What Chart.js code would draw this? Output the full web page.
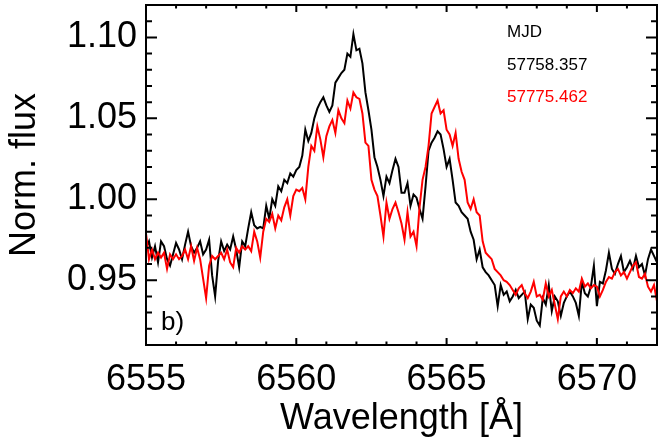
<!DOCTYPE html>
<html>
<head>
<meta charset="utf-8">
<script src="https://cdn.jsdelivr.net/npm/chart.js@4.4.1/dist/chart.umd.min.js"></script>
<style>
  html, body { margin: 0; padding: 0; background: #fff; }
  canvas { display: block; }
</style>
</head>
<body>
<canvas id="chartSpectrum" width="664" height="443"></canvas>
<script>
// Wavelength sampling of both spectra (Angstrom)
const wavelengthStart = 6555.0;
const wavelengthStep = 0.1;

// MJD 57758.357 (black), one row per Angstrom
const flux57758 = [
    0.970, 0.974, 0.964, 0.971, 0.961, 0.974, 0.971, 0.963, 0.959, 0.966,
    0.973, 0.969, 0.963, 0.972, 0.980, 0.971, 0.967, 0.970, 0.974, 0.966,
    0.969, 0.975, 0.953, 0.940, 0.962, 0.974, 0.968, 0.972, 0.969, 0.977,
    0.969, 0.958, 0.974, 0.971, 0.982, 0.992, 0.984, 0.982, 0.983, 0.982,
    0.996, 0.988, 1.000, 0.996, 1.008, 1.005, 1.012, 1.010, 1.016, 1.014,
    1.018, 1.020, 1.027, 1.043, 1.036, 1.041, 1.050, 1.056, 1.060, 1.063,
    1.058, 1.054, 1.058, 1.072, 1.075, 1.078, 1.080, 1.090, 1.088, 1.102,
    1.092, 1.093, 1.084, 1.066, 1.055, 1.043, 1.026, 1.020, 1.012, 1.002,
    1.014, 1.010, 1.018, 1.025, 1.020, 1.004, 1.004, 1.010, 0.996, 1.003,
    1.001, 0.994, 0.988, 1.008, 1.030, 1.035, 1.038, 1.042, 1.040, 1.031,
    1.020, 1.025, 1.012, 0.998, 0.996, 0.992, 0.990, 0.988, 0.980, 0.975,
    0.963, 0.969, 0.958, 0.955, 0.953, 0.950, 0.947, 0.934, 0.947, 0.941,
    0.943, 0.937, 0.940, 0.944, 0.939, 0.941, 0.943, 0.926, 0.935, 0.933,
    0.925, 0.922, 0.939, 0.935, 0.947, 0.931, 0.940, 0.937, 0.928, 0.936,
    0.940, 0.943, 0.940, 0.936, 0.928, 0.949, 0.942, 0.940, 0.946, 0.959,
    0.934, 0.949, 0.948, 0.956, 0.967, 0.957, 0.954, 0.960, 0.965, 0.955,
    0.958, 0.962, 0.957, 0.965, 0.958, 0.960, 0.953, 0.963, 0.969, 0.965,
    0.961
];

// MJD 57775.462 (red)
const flux57775 = [
    0.979, 0.963, 0.969, 0.963, 0.967, 0.964, 0.967, 0.957, 0.966, 0.963,
    0.966, 0.963, 0.965, 0.969, 0.963, 0.971, 0.962, 0.970, 0.963, 0.951,
    0.939, 0.959, 0.965, 0.963, 0.965, 0.967, 0.963, 0.969, 0.961, 0.958,
    0.970, 0.967, 0.971, 0.969, 0.971, 0.968, 0.980, 0.974, 0.964, 0.980,
    0.988, 0.986, 0.991, 0.982, 0.990, 0.987, 0.995, 1.000, 0.990, 1.002,
    1.006, 1.005, 1.007, 1.000, 1.020, 1.033, 1.030, 1.045, 1.037, 1.026,
    1.039, 1.045, 1.049, 1.041, 1.055, 1.050, 1.047, 1.061, 1.056, 1.066,
    1.063, 1.062, 1.053, 1.035, 1.033, 1.012, 1.006, 1.002, 0.990, 0.977,
    0.998, 0.988, 0.994, 0.998, 0.992, 0.985, 0.975, 0.992, 0.977, 0.980,
    0.971, 0.995, 1.012, 1.020, 1.033, 1.053, 1.057, 1.061, 1.053, 1.055,
    1.043, 1.040, 1.033, 1.041, 1.025, 1.017, 1.012, 0.998, 0.994, 1.000,
    0.992, 0.990, 0.974, 0.967, 0.965, 0.963, 0.957, 0.955, 0.953, 0.950,
    0.949, 0.947, 0.944, 0.941, 0.945, 0.947, 0.942, 0.939, 0.943, 0.949,
    0.940, 0.941, 0.938, 0.948, 0.940, 0.944, 0.935, 0.926, 0.940, 0.943,
    0.940, 0.944, 0.942, 0.945, 0.943, 0.951, 0.946, 0.948, 0.945, 0.947,
    0.946, 0.940, 0.944, 0.949, 0.952, 0.951, 0.955, 0.957, 0.953, 0.955,
    0.951, 0.955, 0.959, 0.961, 0.952, 0.951, 0.954, 0.946, 0.943, 0.947,
    0.937
];

const xTickLabels = [6555, 6560, 6565, 6570];
const yTickLabels = [0.95, 1.00, 1.05, 1.10];
const legendTitle = 'MJD';
const panelLabel = 'b)';

const FONT = '"Liberation Sans", Arial, Helvetica, sans-serif';

function toPoints(flux) {
    return flux.map((f, i) => ({ x: +(wavelengthStart + i * wavelengthStep).toFixed(2), y: f }));
}

// box + inward ticks on all four sides (IDL style)
const frameTicks = {
    id: 'frameTicks',
    afterDraw(chart) {
        const { ctx, chartArea: a, scales: { x, y } } = chart;
        ctx.save();
        ctx.strokeStyle = '#000';
        ctx.lineWidth = 2;
        ctx.beginPath();
        for (let k = Math.ceil(x.min) + 1; k < x.max; k++) {
            const px = x.getPixelForValue(k);
            const len = k % 5 === 0 ? 7 : 3.5;
            ctx.moveTo(px, a.bottom); ctx.lineTo(px, a.bottom - len);
            ctx.moveTo(px, a.top); ctx.lineTo(px, a.top + len);
        }
        for (let k = Math.round(y.min * 100) + 1; k < Math.round(y.max * 100); k++) {
            const py = y.getPixelForValue(k / 100);
            const len = k % 5 === 0 ? 11 : 6;
            ctx.moveTo(a.left, py); ctx.lineTo(a.left + len, py);
            ctx.moveTo(a.right, py); ctx.lineTo(a.right - len, py);
        }
        ctx.stroke();
        ctx.strokeRect(a.left, a.top, a.right - a.left, a.bottom - a.top);

        // legend in the upper right
        ctx.font = '17px ' + FONT;
        ctx.textBaseline = 'alphabetic';
        ctx.textAlign = 'left';
        ctx.fillStyle = '#000';
        ctx.fillText(legendTitle, 507, 37);
        chart.data.datasets.forEach((ds, i) => {
            ctx.fillStyle = ds.borderColor;
            ctx.fillText(ds.label, 507, 70 + i * 32);
        });

        // panel letter
        ctx.fillStyle = '#000';
        ctx.font = '26px ' + FONT;
        ctx.fillText(panelLabel, 161, 330);
        ctx.restore();
    }
};

new Chart(document.getElementById('chartSpectrum'), {
    type: 'line',
    data: {
        datasets: [{
            label: '57758.357',
            data: toPoints(flux57758),
            borderColor: '#000000',
            borderWidth: 2,
            pointRadius: 0,
            order: 2
        }, {
            label: '57775.462',
            data: toPoints(flux57775),
            borderColor: '#ff0000',
            borderWidth: 2,
            pointRadius: 0,
            order: 1
        }]
    },
    options: {
        responsive: false,
        animation: false,
        devicePixelRatio: 1,
        layout: { padding: { top: 5, right: 7, left: 0, bottom: 0 } },
        plugins: {
            legend: { display: false },
            tooltip: { enabled: false }
        },
        scales: {
            x: {
                type: 'linear',
                min: 6555,
                max: 6572,
                grid: { display: false, drawTicks: false },
                border: { display: false },
                afterBuildTicks: s => { s.ticks = xTickLabels.map(v => ({ value: v })); },
                afterFit: s => {
                    s.height = 98;
                    s.paddingLeft = 0; s.paddingRight = 0;
                },
                ticks: {
                    autoSkip: false, maxRotation: 0, minRotation: 0, padding: 13,
                    color: '#000', font: { family: FONT, size: 36 },
                    callback: v => String(v)
                },
                title: {
                    display: true, text: 'Wavelength [Å]', color: '#000',
                    font: { family: FONT, size: 36 }, padding: { top: 0, bottom: 2 }
                }
            },
            y: {
                type: 'linear',
                min: 0.91,
                max: 1.12,
                grid: { display: false, drawTicks: false },
                border: { display: false },
                afterBuildTicks: s => { s.ticks = yTickLabels.map(v => ({ value: v })); },
                afterFit: s => {
                    s.width = 146;
                    s.paddingTop = 0; s.paddingBottom = 0;
                },
                ticks: {
                    autoSkip: false, padding: 9,
                    color: '#000', font: { family: FONT, size: 36 },
                    callback: v => v.toFixed(2)
                },
                title: {
                    display: true, text: 'Norm. flux', color: '#000',
                    font: { family: FONT, size: 36 }, padding: { top: 3, bottom: 0 }
                }
            }
        }
    },
    plugins: [frameTicks]
});
</script>
</body>
</html>
